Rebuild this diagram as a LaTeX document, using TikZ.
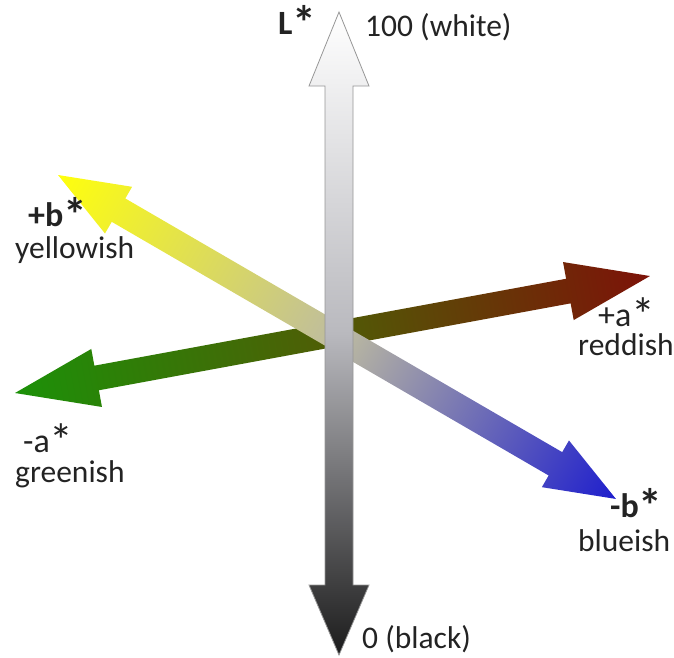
\documentclass[tikz,border=0pt]{standalone}
\usepackage{fontspec}
\setmainfont{Carlito}
\definecolor{agreen}{RGB}{28,145,8}
\definecolor{amid}{RGB}{80,92,6}
\definecolor{ared}{RGB}{125,18,8}
\definecolor{byellow}{RGB}{255,255,12}
\definecolor{bmid}{RGB}{190,188,160}
\definecolor{bblue}{RGB}{30,30,205}
\definecolor{lmid}{RGB}{185,185,190}
\definecolor{ldark}{RGB}{28,28,28}
\definecolor{lline}{RGB}{150,150,150}
\definecolor{txt}{RGB}{35,35,35}
\newcommand\dblarrowpath[4]{(0,0) -- (#2,#3) -- (#2,#4) -- ({#1-#2},#4) -- ({#1-#2},#3) -- (#1,0) -- ({#1-#2},-#3) -- ({#1-#2},-#4) -- (#2,-#4) -- (#2,-#3) -- cycle}
\newcommand\bigast{\raisebox{-0.17em}[0.75em][0pt]{\scalebox{1.4}{*}}}
\tikzset{
  biglabel/.style={anchor=base west, inner sep=0pt, text=txt, font=\fontsize{34}{40}\selectfont},
  boldlabel/.style={biglabel, font=\bfseries\fontsize{34}{40}\selectfont},
  smalllabel/.style={anchor=base west, inner sep=0pt, text=txt, font=\fontsize{31.5}{38}\selectfont},
}
\begin{document}
\begin{tikzpicture}[x=1pt,y=-1pt]
\useasboundingbox (0,0) rectangle (674,657);
% axis end points
\coordinate (aneg) at (15,393);
\coordinate (bpos) at (58,175);
\coordinate (ltop) at (339,12);
% a* axis (green -> red)
\begin{scope}[transform canvas={shift={(aneg)}, rotate=10.44}]
  \shade[left color=agreen, right color=ared, middle color=amid]
    \dblarrowpath{645.7}{83}{29.5}{12.5};
\end{scope}
% b* axis (yellow -> blue)
\begin{scope}[transform canvas={shift={(bpos)}, rotate=-30.14}]
  \shade[left color=byellow, right color=bblue, middle color=bmid]
    \dblarrowpath{645.2}{70}{27}{13.5};
\end{scope}
% L* axis (white -> black)
\shade[top color=white, bottom color=ldark, middle color=lmid, draw=lline, line width=0.8pt]
  (ltop) -- (369,86) -- (353,86) -- (353,585) -- (369,585) -- (339,655)
  -- (309,585) -- (325,585) -- (325,86) -- (309,86) -- cycle;
% labels
\node[boldlabel] (lstar) at (278,34) {L\bigast};
\node[smalllabel] (white) at (365,36) {100 (white)};
\node[smalllabel] (black) at (362,648) {0 (black)};
\node[boldlabel] (bplus) at (28,226) {+b\bigast};
\node[smalllabel] (yellowish) at (15,258) {yellowish};
\node[biglabel] (aplus) at (598,326) {+a\bigast};
\node[smalllabel] (reddish) at (578,355) {reddish};
\node[biglabel] (aminus) at (23,452) {-a\bigast};
\node[smalllabel] (greenish) at (15,482) {greenish};
\node[boldlabel] (bminus) at (610,517) {-b\bigast};
\node[smalllabel] (blueish) at (578,551) {blueish};
\end{tikzpicture}
\end{document}
